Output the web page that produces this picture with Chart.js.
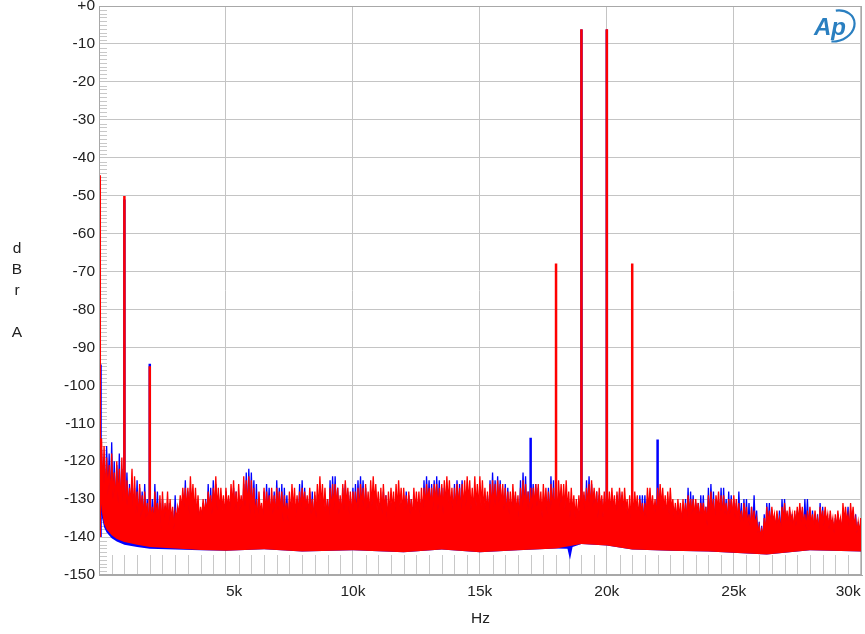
<!DOCTYPE html>
<html>
<head>
<meta charset="utf-8">
<script src="https://cdn.jsdelivr.net/npm/chart.js@4.4.1/dist/chart.umd.min.js"></script>
<style>
html, body { margin: 0; padding: 0; background: #fff; }
#wrap { width: 865px; height: 634px; position: relative; }
</style>
</head>
<body>
<div id="wrap"><canvas id="myChart" width="865" height="634"></canvas></div>
<script>
// FFT noise, one value per 100 Hz bin (peak of the bin, then the dip after it)
const binHz = 100;

const redPeak = [
	-118,-114,-116,-119,-121,-118,-123,-120,-122,-119,
	-124,-125,-127,-122,-124,-128,-126,-129,-128,-131,
	-130,-132,-128,-131,-129,-128,-131,-128,-130,-132,
	-133,-132,-129,-127,-127,-127,-124,-126,-127,-129,
	-132,-130,-131,-128,-129,-127,-124,-127,-127,-129,
	-127,-129,-126,-125,-128,-126,-129,-124,-125,-124,
	-125,-127,-130,-128,-131,-127,-128,-129,-127,-129,
	-127,-128,-128,-129,-131,-128,-126,-127,-129,-128,
	-127,-128,-129,-127,-130,-128,-126,-124,-126,-127,
	-130,-127,-126,-126,-127,-129,-126,-125,-127,-128,
	-128,-128,-127,-126,-127,-126,-128,-125,-124,-126,
	-128,-127,-126,-129,-128,-127,-128,-126,-125,-127,
	-127,-129,-128,-130,-127,-128,-128,-127,-127,-126,
	-127,-127,-126,-126,-127,-126,-125,-124,-125,-127,
	-127,-126,-127,-126,-125,-124,-125,-127,-124,-126,
	-124,-125,-127,-128,-126,-125,-126,-125,-126,-126,
	-127,-128,-128,-126,-128,-129,-127,-125,-126,-128,
	-127,-127,-126,-126,-128,-126,-127,-128,-126,-127,
	-127,-125,-126,-126,-125,-128,-127,-129,-130,-129,
	-127,-128,-127,-126,-125,-127,-128,-127,-129,-128,
	-128,-128,-127,-129,-128,-127,-128,-127,-130,-129,
	-129,-128,-129,-130,-131,-131,-127,-127,-129,-130,
	-127,-126,-127,-129,-128,-127,-130,-131,-130,-131,
	-130,-131,-129,-130,-130,-130,-131,-131,-131,-132,
	-129,-128,-130,-129,-128,-129,-129,-131,-130,-130,
	-129,-130,-131,-133,-131,-132,-134,-132,-133,-135,
	-137,-138,-135,-132,-133,-132,-134,-133,-135,-132,
	-131,-133,-132,-134,-133,-132,-131,-132,-134,-133,
	-132,-134,-133,-135,-132,-133,-132,-134,-133,-135,
	-134,-133,-135,-131,-132,-134,-131,-132,-135,-136,
	-135,-137
];
const redDip = [
	-126,-128,-130,-129,-131,-130,-132,-131,-133,-132,
	-134,-133,-132,-135,-134,-136,-135,-136,-135,-137,
	-136,-137,-135,-136,-138,-136,-135,-137,-136,-138,
	-135,-134,-133,-132,-133,-134,-132,-134,-135,-136,
	-135,-134,-133,-132,-134,-132,-133,-134,-133,-135,
	-133,-134,-132,-133,-135,-133,-134,-132,-133,-134,
	-133,-135,-136,-134,-136,-134,-133,-135,-134,-135,
	-133,-134,-136,-134,-136,-135,-133,-135,-134,-133,
	-132,-133,-135,-134,-136,-135,-133,-132,-134,-135,
	-136,-134,-133,-132,-134,-135,-133,-132,-134,-135,
	-133,-135,-134,-132,-134,-133,-135,-132,-131,-133,
	-135,-134,-133,-136,-134,-133,-135,-133,-132,-134,
	-133,-135,-134,-136,-133,-134,-135,-134,-132,-131,
	-132,-133,-131,-133,-132,-134,-132,-131,-133,-134,
	-133,-132,-134,-133,-132,-131,-133,-134,-132,-133,
	-132,-133,-134,-135,-133,-132,-134,-131,-132,-133,
	-135,-134,-135,-133,-134,-136,-134,-133,-133,-135,
	-133,-132,-132,-134,-135,-133,-134,-135,-133,-134,
	-134,-132,-133,-133,-133,-135,-134,-135,-136,-134,
	-133,-134,-132,-133,-132,-133,-135,-133,-135,-134,
	-133,-134,-133,-135,-134,-133,-134,-133,-136,-135,
	-134,-133,-135,-134,-136,-135,-133,-133,-134,-135,
	-133,-132,-133,-135,-134,-133,-135,-136,-135,-137,
	-135,-136,-134,-134,-135,-134,-136,-134,-135,-137,
	-135,-134,-136,-133,-134,-135,-134,-136,-134,-135,
	-135,-136,-136,-138,-136,-137,-138,-137,-137,-139,
	-140,-140,-139,-137,-137,-136,-138,-137,-139,-136,
	-136,-137,-136,-138,-137,-136,-136,-137,-138,-137,
	-137,-138,-137,-139,-136,-137,-136,-138,-137,-139,
	-138,-137,-139,-136,-136,-138,-136,-137,-139,-139,
	-139,-140
];
const bluePeak = [
	-116,-117,-119,-116,-118,-115,-120,-121,-118,-122,
	-125,-123,-126,-125,-127,-125,-127,-128,-126,-130,
	-131,-130,-126,-128,-131,-130,-132,-131,-131,-133,
	-129,-134,-131,-129,-125,-128,-127,-130,-130,-132,
	-133,-131,-130,-126,-127,-125,-126,-129,-130,-132,
	-128,-130,-129,-127,-128,-129,-130,-126,-123,-122,
	-123,-125,-126,-132,-133,-128,-126,-127,-130,-128,
	-125,-127,-126,-127,-129,-132,-131,-132,-130,-126,
	-125,-127,-130,-128,-128,-129,-131,-130,-131,-132,
	-130,-125,-124,-124,-127,-130,-127,-126,-128,-129,
	-127,-126,-125,-124,-125,-127,-130,-129,-129,-131,
	-132,-130,-128,-129,-131,-131,-132,-130,-129,-131,
	-130,-128,-129,-130,-131,-132,-131,-130,-125,-124,
	-125,-126,-125,-124,-125,-127,-127,-128,-128,-130,
	-126,-125,-126,-125,-128,-127,-129,-130,-129,-130,
	-131,-130,-131,-129,-125,-123,-125,-124,-125,-129,
	-126,-127,-130,-128,-129,-131,-125,-123,-124,-128,
	-126,-126,-126,-127,-131,-131,-130,-127,-124,-125,
	-130,-128,-128,-130,-130,-131,-130,-132,-132,-133,
	-130,-129,-125,-124,-126,-128,-128,-129,-130,-132,
	-130,-130,-130,-132,-129,-128,-129,-130,-133,-132,
	-131,-131,-132,-129,-129,-129,-130,-130,-131,-132,
	-129,-130,-130,-131,-131,-131,-132,-132,-132,-133,
	-132,-130,-127,-128,-129,-131,-131,-129,-129,-132,
	-127,-126,-128,-130,-130,-127,-127,-130,-128,-129,
	-130,-131,-128,-131,-130,-130,-131,-132,-129,-133,
	-136,-137,-134,-131,-131,-133,-135,-134,-133,-130,
	-130,-134,-133,-134,-134,-133,-132,-133,-130,-130,
	-133,-133,-134,-134,-131,-132,-133,-135,-134,-136,
	-135,-134,-136,-133,-134,-132,-133,-133,-134,-136,
	-136,-136
];
const blueDip = [
	-128,-130,-131,-130,-133,-132,-134,-133,-135,-134,
	-136,-135,-134,-137,-136,-138,-137,-138,-137,-139,
	-138,-139,-137,-138,-140,-138,-137,-139,-138,-140,
	-139,-138,-137,-136,-137,-138,-136,-138,-139,-140,
	-139,-138,-137,-136,-138,-136,-137,-138,-137,-139,
	-137,-138,-136,-137,-139,-137,-138,-136,-135,-136,
	-136,-137,-139,-138,-140,-137,-136,-137,-138,-138,
	-136,-137,-138,-137,-139,-139,-137,-139,-138,-136,
	-135,-137,-139,-137,-139,-138,-137,-136,-138,-139,
	-139,-136,-135,-135,-137,-139,-136,-135,-137,-138,
	-136,-136,-135,-134,-136,-137,-139,-136,-135,-137,
	-139,-138,-136,-138,-138,-137,-139,-137,-136,-138,
	-137,-136,-137,-139,-137,-138,-139,-138,-135,-134,
	-135,-136,-134,-135,-135,-137,-136,-135,-137,-138,
	-136,-135,-136,-136,-136,-135,-137,-138,-136,-137,
	-136,-137,-138,-138,-136,-134,-136,-135,-135,-137,
	-137,-137,-139,-137,-138,-139,-136,-134,-135,-138,
	-136,-135,-136,-137,-139,-137,-138,-138,-136,-136,
	-138,-136,-137,-137,-137,-139,-138,-139,-140,-138,
	-137,-137,-135,-135,-136,-137,-139,-137,-139,-138,
	-137,-138,-137,-139,-137,-137,-138,-137,-140,-139,
	-138,-137,-139,-137,-139,-138,-137,-137,-138,-139,
	-137,-136,-137,-139,-138,-137,-139,-140,-139,-141,
	-139,-139,-137,-137,-138,-138,-140,-137,-138,-140,
	-137,-136,-139,-137,-138,-137,-137,-139,-137,-138,
	-138,-139,-137,-140,-138,-139,-140,-139,-138,-141,
	-142,-142,-141,-138,-138,-139,-140,-139,-141,-138,
	-138,-139,-138,-140,-139,-138,-138,-139,-138,-138,
	-139,-140,-139,-141,-138,-139,-139,-140,-139,-141,
	-140,-139,-141,-139,-139,-139,-139,-139,-141,-140,
	-139,-140
];

// lower edge of the noise
const redFloorHz = [0, 40, 100, 200, 300, 500, 700, 1000, 1500, 2000, 3000, 4000, 5000, 6500, 8000, 10000, 12000, 13500, 15000, 16500, 18000, 19000, 20000, 21000, 22500, 24000, 26300, 28000, 30150];
const redFloorDb = [-125, -128, -133, -136.5, -138, -139.5, -140.5, -141.3, -142, -142.6, -143, -143.4, -143.6, -143.2, -143.8, -143.5, -144, -143.3, -144, -143.5, -143, -141.8, -142.2, -143.3, -143.6, -143.8, -144.6, -143.5, -143.8];
const blueFloorHz = [0, 40, 100, 200, 300, 500, 700, 1000, 1500, 2000, 3000, 4000, 5000, 6500, 8000, 10000, 12000, 13500, 15000, 16500, 18000, 18450, 18550, 18650, 19000, 20000, 21000, 22500, 24000, 26300, 28000, 30150];
const blueFloorDb = [-129, -130, -134.3, -137.4, -138.8, -140.3, -141.2, -142, -142.6, -143.1, -143.3, -143.5, -143.6, -143.2, -143.8, -143.5, -144, -143.3, -144, -143.5, -143, -143.1, -146, -142.6, -141.8, -142.2, -143.3, -143.6, -143.8, -144.6, -143.5, -143.8];

// discrete tones
const redToneHz = [30, 1000, 2000, 18000, 19000, 20000, 21000];
const redToneDb = [-44.6, -50.1, -95, -67.9, -6.1, -6.1, -67.9];
const blueToneHz = [60, 1000, 2000, 17000, 19000, 20000, 22000];
const blueToneDb = [-94.5, -51, -94.3, -113.8, -6.2, -6.2, -114.3];

const yTicks = [0, -10, -20, -30, -40, -50, -60, -70, -80, -90, -100, -110, -120, -130, -140, -150];
const xTicks = [5000, 10000, 15000, 20000, 25000, 30000];
const yTitle = ['d', 'B', 'r', '', 'A'];

function noiseTrace(peaks, dips){
	let pts = [];
	for(let i=0; i<peaks.length; i++){
		pts.push({x: i*binHz, y: peaks[i]});
		pts.push({x: i*binHz + binHz/2, y: dips[i]});
	}
	return pts;
}

function pairs(hz, db){
	return hz.map((f, i) => ({x: f, y: db[i]}));
}

function toneTrace(hz, db){
	let pts = [];
	for(let i=0; i<hz.length; i++){
		pts.push({x: hz[i], y: -140});
		pts.push({x: hz[i], y: db[i]});
		pts.push({x: hz[i], y: null});
	}
	return pts;
}

const RED = '#ff0000';
const BLUE = '#0000ff';
const FONT = 'Arial, "Liberation Sans", sans-serif';

// frame, minor ticks, stacked y title and the AP logo
const decorations = {
	id: 'decorations',
	beforeDatasetsDraw(chart){
		const ctx = chart.ctx;
		const a = chart.chartArea;
		const xs = chart.scales.x;
		const ys = chart.scales.y;
		ctx.save();
		ctx.strokeStyle = '#c8c8c8';
		ctx.lineWidth = 1;
		ctx.beginPath();
		for(let v=500; v<30050; v+=500){
			if(v % 5000 == 0) continue;
			let px = Math.round(xs.getPixelForValue(v)) + 0.5;
			ctx.moveTo(px, a.bottom);
			ctx.lineTo(px, a.bottom - 20);
		}
		for(let v=-149; v<0; v++){
			if(v % 10 == 0) continue;
			let py = Math.round(ys.getPixelForValue(v)) + 0.5;
			ctx.moveTo(a.left, py);
			ctx.lineTo(a.left + 8, py);
		}
		ctx.stroke();
		ctx.restore();
	},
	afterDraw(chart){
		const ctx = chart.ctx;
		const a = chart.chartArea;
		ctx.save();
		ctx.strokeStyle = '#a8a8a8';
		ctx.lineWidth = 1;
		ctx.strokeRect(a.left + 0.5, a.top + 0.5, a.right - a.left - 1, a.bottom - a.top - 1);

		ctx.fillStyle = '#222';
		ctx.font = '15.5px ' + FONT;
		ctx.textAlign = 'center';
		ctx.textBaseline = 'middle';
		for(let i=0; i<yTitle.length; i++){
			ctx.fillText(yTitle[i], 17, 249 + i*21);
		}

		// logo
		ctx.strokeStyle = '#2a7fc0';
		ctx.fillStyle = '#2a7fc0';
		ctx.lineWidth = 2.2;
		ctx.beginPath();
		ctx.ellipse(836, 26, 19, 15, -0.35, -1.3, 2.1);
		ctx.stroke();
		ctx.font = 'italic bold 24px ' + FONT;
		ctx.fillText('Ap', 830, 28);
		ctx.restore();
	}
};

const ctx = document.getElementById('myChart');

const myChart = new Chart(ctx, {
	type: 'line',
	data: {
		datasets: [
			{label: 'tones R', data: toneTrace(redToneHz, redToneDb), borderColor: RED, borderWidth: 2.5, order: 0},
			{label: 'noise R', data: noiseTrace(redPeak, redDip), borderColor: RED, backgroundColor: RED, borderWidth: 1.3, fill: '+1', order: 1},
			{label: 'floor R', data: pairs(redFloorHz, redFloorDb), borderColor: 'rgba(0,0,0,0)', borderWidth: 1, order: 2},
			{label: 'tones L', data: toneTrace(blueToneHz, blueToneDb), borderColor: BLUE, borderWidth: 2.5, order: 3},
			{label: 'noise L', data: noiseTrace(bluePeak, blueDip), borderColor: BLUE, backgroundColor: BLUE, borderWidth: 1.3, fill: '+1', order: 4},
			{label: 'floor L', data: pairs(blueFloorHz, blueFloorDb), borderColor: 'rgba(0,0,0,0)', borderWidth: 1, order: 5}
		]
	},
	options: {
		responsive: false,
		animation: false,
		devicePixelRatio: 1,
		layout: {padding: {top: 6, right: 3, left: 0, bottom: 0}},
		elements: {point: {radius: 0}, line: {tension: 0}},
		plugins: {legend: {display: false}, tooltip: {enabled: false}},
		scales: {
			x: {
				type: 'linear',
				min: 0,
				max: 30050,
				afterBuildTicks: (s) => { s.ticks = xTicks.map(v => ({value: v})); },
				afterFit: (s) => { s.height = 59; s.paddingLeft = 0; s.paddingRight = 0; },
				grid: {color: '#c4c4c4', drawTicks: false},
				border: {color: '#a8a8a8'},
				ticks: {
					align: 'inner',
					padding: 7,
					color: '#222',
					font: {family: FONT, size: 15.5},
					maxRotation: 0,
					callback: (v) => (v/1000) + 'k'
				},
				title: {display: true, text: 'Hz', color: '#222', font: {family: FONT, size: 15.5}, padding: {top: 4, bottom: 6}}
			},
			y: {
				min: -150,
				max: 0,
				afterBuildTicks: (s) => { s.ticks = yTicks.map(v => ({value: v})); },
				afterFit: (s) => { s.width = 99; s.paddingTop = 0; s.paddingBottom = 0; },
				grid: {color: '#c4c4c4', drawTicks: false},
				border: {color: '#a8a8a8'},
				ticks: {
					padding: 4,
					color: '#222',
					font: {family: FONT, size: 15.5},
					callback: (v) => v == 0 ? '+0' : String(v)
				}
			}
		}
	},
	plugins: [decorations]
});
</script>
</body>
</html>
